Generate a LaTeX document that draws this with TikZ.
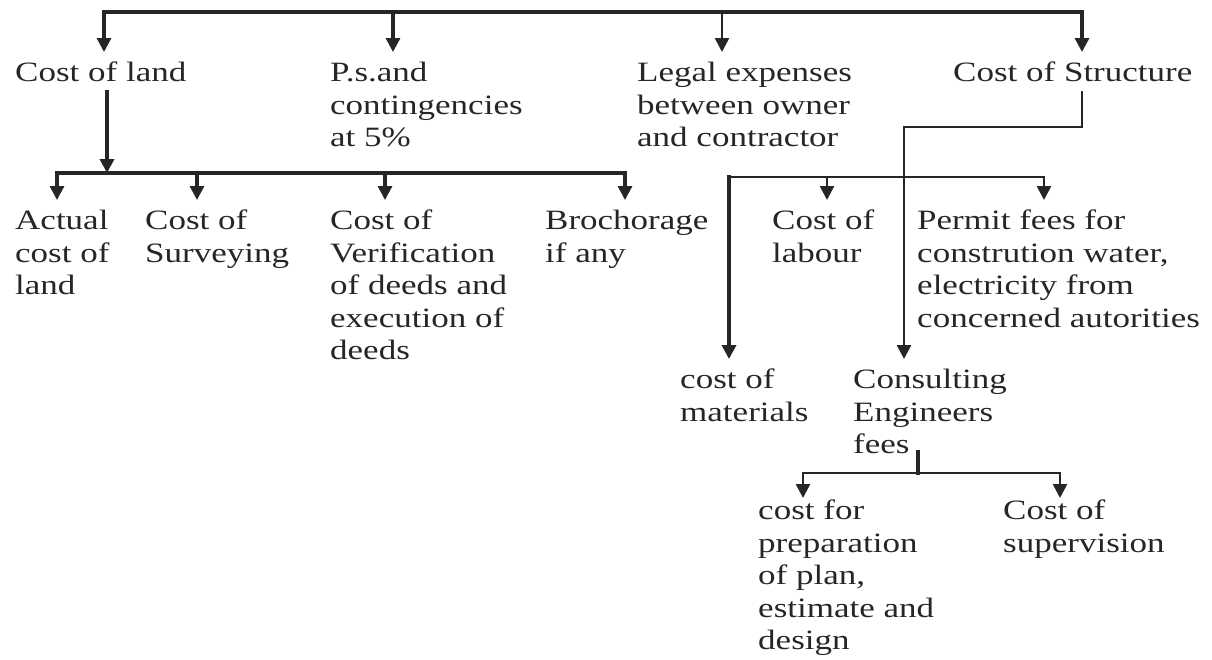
\documentclass[tikz,border=0pt]{standalone}
\usepackage{fontspec}
\setmainfont{Liberation Serif}[FakeStretch=1.25]
\usetikzlibrary{arrows.meta}
\begin{document}
\begin{tikzpicture}[x=1pt,y=-1pt,
  lbl/.style={font=\fontsize{28}{32.5}\selectfont, align=left, anchor=north west,
              inner xsep=0pt, inner ysep=10pt, text=black!85},
  lblb/.style={lbl, inner ysep=2pt},
  ln/.style={line width=3.2pt, draw=black!85, line cap=rect},
  thk/.style={line width=4.2pt},
  thn/.style={line width=2.6pt},
  arr/.style={ln, -{Triangle[width=14pt,length=14pt]}},
]
\useasboundingbox (0,0) rectangle (1212,659);

% labels
\node[lbl] (land)   at (15,52)  {Cost of land};
\node[lbl] (ps)     at (330,52) {P.s.and\\contingencies\\at 5\%};
\node[lbl] (legal)  at (637,52) {Legal expenses\\between owner\\and contractor};
\node[lbl] (struct) at (953,52) {Cost of Structure};

\node[lbl] (actual) at (15,200)  {Actual\\cost of\\land};
\node[lbl] (survey) at (145,200) {Cost of\\Surveying};
\node[lbl] (verif)  at (330,200) {Cost of\\Verification\\of deeds and\\execution of\\deeds};
\node[lbl] (broch)  at (545,200) {Brochorage\\if any};
\node[lbl] (labour) at (772,200) {Cost of\\labour};
\node[lbl] (permit) at (917,200) {Permit fees for\\constrution water,\\electricity from\\concerned autorities};

\node[lbl] (materials) at (680,359) {cost of\\materials};
\node[lbl] (cons)      at (853,359) {Consulting\\Engineers\\fees};

\node[lblb] (prep)   at (758,498)  {cost for\\preparation\\of plan,\\estimate and\\design};
\node[lblb] (superv) at (1003,498) {Cost of\\supervision};

% top level
\coordinate (tL) at (104,12);
\coordinate (tP) at (393,12);
\coordinate (tG) at (722,12);
\coordinate (tR) at (1082,12);
\draw[arr] (tR) -- (tL) -- (tL |- land.north);
\draw[arr] (tP) -- (tP |- ps.north);
\draw[arr,thn] (tG) -- (tG |- legal.north);
\draw[arr] (tR) -- (tR |- struct.north);

% cost of land
\coordinate (cl) at (107,173);
\coordinate (bL) at (57,173);
\coordinate (bS) at (197,173);
\coordinate (bV) at (385,173);
\coordinate (bR) at (625,173);
\draw[arr,thk] (cl |- land.south) -- (cl);
\draw[arr] (bR) -- (bL) -- (bL |- actual.north);
\draw[arr] (bS) -- (bS |- survey.north);
\draw[arr] (bV) -- (bV |- verif.north);
\draw[arr] (bR) -- (bR |- broch.north);

% cost of structure
\coordinate (s1) at (1082,127);
\coordinate (s2) at (904,127);
\draw[arr,thn] (s1 |- struct.south) -- (s1) -- (s2) -- (s2 |- cons.north);
\coordinate (m1) at (729,177);
\coordinate (mL) at (827,177);
\coordinate (m3) at (1044,177);
\draw[arr,thn] (m1) -- (m3) -- (m3 |- permit.north);
\draw[arr,thk] (m1) -- (m1 |- materials.north);
\draw[arr,thn] (mL) -- (mL |- labour.north);

% consulting engineers fees
\coordinate (c0) at (918,452);
\coordinate (c1) at (918,473);
\coordinate (cL) at (803,473);
\coordinate (cR) at (1060,473);
\draw[ln,thk] (c0) -- (c1);
\draw[arr,thn] (c1) -- (cL) -- (cL |- prep.north);
\draw[arr,thn] (c1) -- (cR) -- (cR |- superv.north);
\end{tikzpicture}
\end{document}
